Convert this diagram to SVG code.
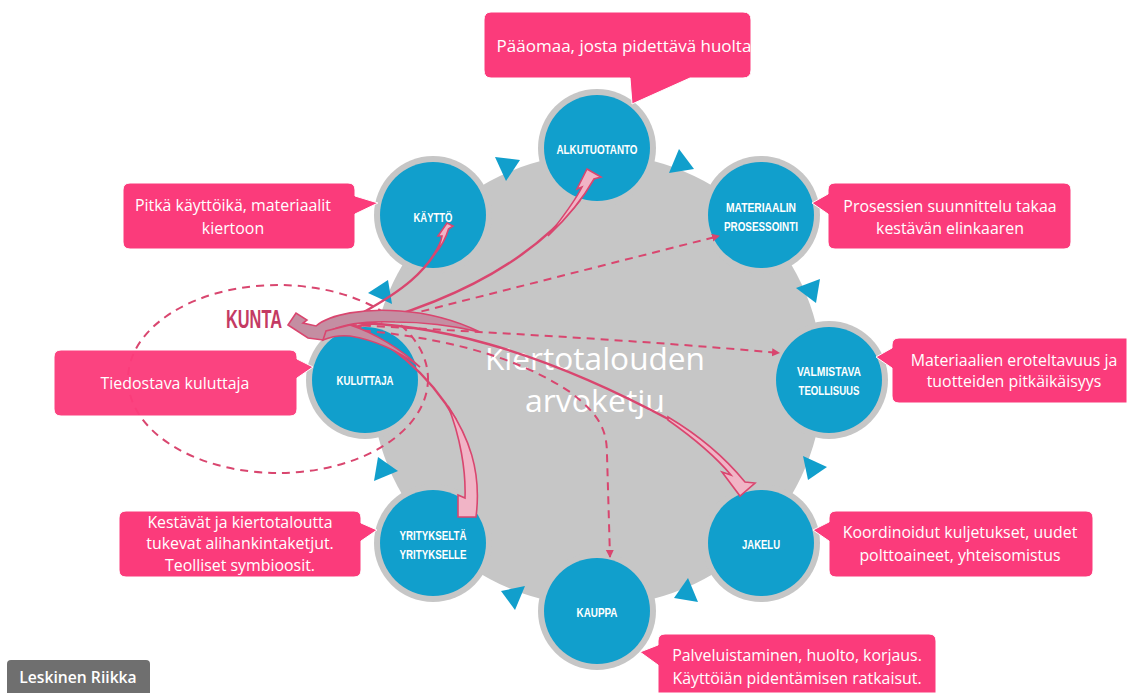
<svg xmlns="http://www.w3.org/2000/svg" width="1127" height="693" viewBox="0 0 1127 693">
<style>
.ring{fill:#c6c6c6}
.disc{fill:#119fcc}
.tri{fill:#119fcc}
.nl{font-family:"Liberation Sans",Arial,sans-serif;font-weight:700;font-size:13.5px;fill:#fff;text-anchor:middle}
.box{fill:#fb3b7b;stroke:#fff;stroke-width:1}
.ct{font-family:"Open Sans","Noto Sans",sans-serif;font-size:15.9px;fill:#fff;text-anchor:middle}
.dash{fill:none;stroke:#d9466f;stroke-width:2;stroke-dasharray:8 6}
.thin{fill:none;stroke:#d9466f;stroke-width:2.4}
.blk{fill:#f1b4c6;stroke:#d9466f;stroke-width:1.6;stroke-linejoin:miter}
.blk2{fill:#c48ea2;stroke:#d9466f;stroke-width:1.6}
</style>
<defs>
<marker id="ah" markerWidth="9" markerHeight="9" refX="7" refY="4" orient="auto" markerUnits="userSpaceOnUse"><path d="M0 0L8 4L0 8z" fill="#d9466f"/></marker>
</defs>
<rect width="1127" height="693" fill="#fff"/>
<g id="backdrop">
<circle cx="597" cy="380" r="226" class="ring"/>
<path class="tri" d="M495 157L520 160L506 181z"/>
<path class="tri" d="M679 149L694 169L669 173z"/>
<path class="tri" d="M796 288L820 279L816 303z"/>
<path class="tri" d="M803 456L827 467L808 480z"/>
<path class="tri" d="M688 578L698 602L674 598z"/>
<path class="tri" d="M501 591L525 586L515 610z"/>
<path class="tri" d="M378 457L398 471L374 481z"/>
<path class="tri" d="M368 293L388 280L392 304z"/>
</g>
<g id="center-title" font-family="'Open Sans','Noto Sans',sans-serif" font-size="31" fill="#fff" text-anchor="middle">
<text x="595" y="370" textLength="220" lengthAdjust="spacingAndGlyphs">Kiertotalouden</text>
<text x="595" y="412" textLength="140" lengthAdjust="spacingAndGlyphs">arvoketju</text>
</g>
<g id="node-alkutuotanto"><circle cx="597" cy="148" r="59" class="ring"/><circle cx="597" cy="148" r="53" class="disc"/><text class="nl" x="597" y="154" textLength="81" lengthAdjust="spacingAndGlyphs">ALKUTUOTANTO</text></g>
<g id="node-kaytto"><circle cx="433" cy="215" r="59" class="ring"/><circle cx="433" cy="215" r="53" class="disc"/><text class="nl" x="433" y="222" textLength="39" lengthAdjust="spacingAndGlyphs">KÄYTTÖ</text></g>
<g id="node-materiaalin"><circle cx="761" cy="215" r="59" class="ring"/><circle cx="761" cy="215" r="53" class="disc"/><text class="nl" x="761" y="212" textLength="70" lengthAdjust="spacingAndGlyphs">MATERIAALIN</text><text class="nl" x="761" y="231" textLength="74" lengthAdjust="spacingAndGlyphs">PROSESSOINTI</text></g>
<g id="node-valmistava"><circle cx="829" cy="380" r="59" class="ring"/><circle cx="829" cy="380" r="53" class="disc"/><text class="nl" x="829" y="376" textLength="64" lengthAdjust="spacingAndGlyphs">VALMISTAVA</text><text class="nl" x="829" y="395" textLength="61" lengthAdjust="spacingAndGlyphs">TEOLLISUUS</text></g>
<g id="node-jakelu"><circle cx="761" cy="543" r="59" class="ring"/><circle cx="761" cy="543" r="53" class="disc"/><text class="nl" x="761" y="549" textLength="38" lengthAdjust="spacingAndGlyphs">JAKELU</text></g>
<g id="node-kauppa"><circle cx="597" cy="611" r="59" class="ring"/><circle cx="597" cy="611" r="53" class="disc"/><text class="nl" x="597" y="617" textLength="41" lengthAdjust="spacingAndGlyphs">KAUPPA</text></g>
<g id="node-yritys"><circle cx="433" cy="543" r="59" class="ring"/><circle cx="433" cy="543" r="53" class="disc"/><text class="nl" x="433" y="540" textLength="67" lengthAdjust="spacingAndGlyphs">YRITYKSELTÄ</text><text class="nl" x="433" y="559" textLength="67" lengthAdjust="spacingAndGlyphs">YRITYKSELLE</text></g>
<g id="node-kuluttaja"><circle cx="365" cy="380" r="59" class="ring"/><circle cx="365" cy="380" r="53" class="disc"/><text class="nl" x="365" y="385" textLength="57" lengthAdjust="spacingAndGlyphs">KULUTTAJA</text></g>
<g id="connectors">
<ellipse cx="278" cy="379" rx="150" ry="94" class="dash"/>
<path class="dash" d="M340 332L719 236" marker-end="url(#ah)"/>
<path class="dash" d="M335 324C480 332 640 340 779 353" marker-end="url(#ah)"/>
<path class="dash" d="M335 328C430 335 510 352 570 392C600 415 607 430 607 455L610 557" marker-end="url(#ah)"/>
<path class="thin" d="M362 313C400 292 428 272 442 240"/>
<path class="blk" d="M447 223L453 226L448.500 229C446 238 441 247 434 255C440 247 441 241 442 236L438 236z"/>
<path class="thin" d="M340 331C420 312 520 275 580 200"/>
<path class="blk" d="M587 169L601 177L594 179C585 195 570 215 548 236C562 218 574 203 582 187L577 189z"/>
<path class="thin" d="M330 323C430 320 540 350 672 421"/>
<path class="blk" d="M668 417C700 436 727 460 745 482L755 483L740 496L722 472L731 475C715 456 695 439 668 420z"/>
<path class="thin" d="M345 327C385 335 430 375 456 420"/>
<path class="blk" d="M448 406C468 436 482 470 476 517L458 517L458 495L465 498C466 470 460 436 448 406z"/>
<path class="blk2" d="M288 325L296 313L307 320L303 323L316 326C330 314 365 308 400 311C430 313 455 320 480 332C450 325 420 322 395 322C370 321 347 323 332 330L323 340L308 338z"/>
<path class="blk2" d="M323 340L326 331L350 325C375 333 402 350 420 367C400 352 375 340 350 336C340 335 330 337 323 340z"/>
</g>
<g id="kunta-label"><text x="254" y="328" font-family="'Liberation Sans',Arial,sans-serif" font-weight="700" font-size="26" fill="#c43a63" text-anchor="middle" textLength="56" lengthAdjust="spacingAndGlyphs">KUNTA</text></g>
<g id="callout-alkutuotanto"><path class="box" d="M491 12H743Q751 12 751 20V70Q751 78 743 78H690L632 104L630 78H491Q484 78 484 70V20Q484 12 491 12z"/><text class="ct" x="624" y="52" style="font-size:17px">Pääomaa, josta pidettävä huolta</text></g>
<g id="callout-kaytto"><path class="box" d="M130 183H348Q355 183 355 190V196L378 203L355 214V242Q355 249 348 249H130Q123 249 123 242V190Q123 183 130 183z"/><text class="ct" x="233" y="211">Pitkä käyttöikä, materiaalit</text><text class="ct" x="233" y="234">kiertoon</text></g>
<g id="callout-materiaalin"><path class="box" d="M835 183H1064Q1071 183 1071 190V242Q1071 249 1064 249H835Q828 249 828 242V214L812 203L828 194V190Q828 183 835 183z"/><text class="ct" x="950" y="212">Prosessien suunnittelu takaa</text><text class="ct" x="950" y="234">kestävän elinkaaren</text></g>
<g id="callout-valmistava"><path class="box" d="M899 338H1127V403H899Q892 403 892 396V368L876 357L892 348V345Q892 338 899 338z"/><text class="ct" x="1014" y="366">Materiaalien eroteltavuus ja</text><text class="ct" x="1014" y="387">tuotteiden pitkäikäisyys</text></g>
<g id="callout-kuluttaja"><path class="box" d="M61 350H290Q297 350 297 357V359L313 367L297 378V409Q297 416 290 416H61Q54 416 54 409V357Q54 350 61 350z" fill-opacity=".96"/><text class="ct" x="175" y="389">Tiedostava kuluttaja</text></g>
<g id="callout-yritys"><path class="box" d="M126 511H354Q361 511 361 518V523L377 530L361 541V570Q361 577 354 577H126Q119 577 119 570V518Q119 511 126 511z"/><text class="ct" x="240" y="528">Kestävät ja kiertotaloutta</text><text class="ct" x="240" y="549">tukevat alihankintaketjut.</text><text class="ct" x="240" y="571">Teolliset symbioosit.</text></g>
<g id="callout-jakelu"><path class="box" d="M836 511H1086Q1093 511 1093 518V570Q1093 577 1086 577H836Q829 577 829 570V541L813 530L829 522V518Q829 511 836 511z"/><text class="ct" x="960" y="538">Koordinoidut kuljetukset, uudet</text><text class="ct" x="960" y="561">polttoaineet, yhteisomistus</text></g>
<g id="callout-kauppa"><path class="box" d="M665 634H929Q936 634 936 641V693H658V665L640 652L658 645V641Q658 634 665 634z"/><text class="ct" x="797" y="661">Palveluistaminen, huolto, korjaus.</text><text class="ct" x="797" y="684">Käyttöiän pidentämisen ratkaisut.</text></g>
<g id="author-tag"><rect x="7" y="660" width="143" height="40" rx="4" fill="#6f6f6f"/><text x="78" y="683" font-family="'Open Sans','Noto Sans',sans-serif" font-weight="600" font-size="15.700" fill="#fff" text-anchor="middle">Leskinen Riikka</text></g>
</svg>
